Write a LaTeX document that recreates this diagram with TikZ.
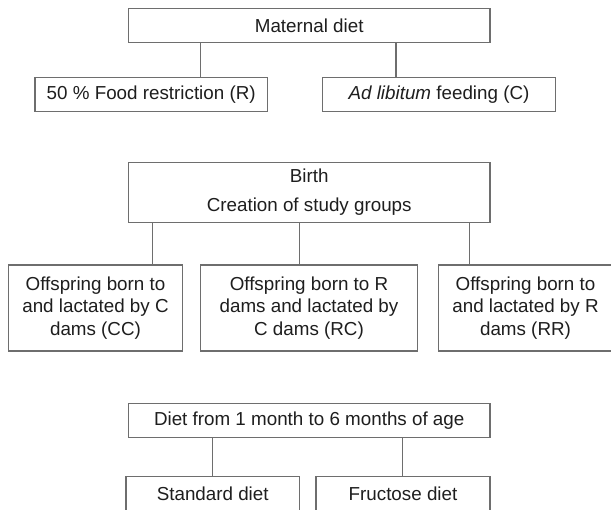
\documentclass[tikz,border=0pt]{standalone}
\usepackage{fontspec}
\setmainfont{Liberation Sans}
\definecolor{linegray}{HTML}{6E6E6E}
\definecolor{textdark}{HTML}{1E1E1E}
\begin{document}
\begin{tikzpicture}[x=1pt,y=-1pt,
  box/.style={draw=linegray, line width=1.5pt, inner sep=0pt, anchor=center,
    text=textdark, font=\fontsize{18.8}{22.2}\selectfont, align=center},
  conn/.style={draw=linegray, line width=1.5pt}]
\useasboundingbox (0,0) rectangle (611,510);
\clip (0,0) rectangle (611,510);
\fill[white] (0,0) rectangle (611,510);
% level 1
\node[box, minimum width=361.7pt, minimum height=34pt] (mat) at (309.2,25.3) {Maternal diet};
\node[box, minimum width=232.3pt, minimum height=34pt] (fr) at (151.2,94.3) {50 \% Food restriction (R)};
\node[box, minimum width=232.6pt, minimum height=34pt] (al) at (439,94.3) {\textit{Ad libitum} feeding (C)};
\coordinate (c1) at (200.7,0);
\coordinate (c2) at (396,0);
\draw[conn] (mat.south -| c1) -- (fr.north -| c1);
\draw[conn] (mat.south -| c2) -- (al.north -| c2);
% level 2
\node[box, minimum width=361.7pt, minimum height=60pt, font=\fontsize{18.8}{28.4}\selectfont] (birth) at (309.2,192.3) {Birth\\Creation of study groups};
\node[box, minimum width=174.4pt, minimum height=86pt] (cc) at (95.5,308) {Offspring born to\\and lactated by C\\dams (CC)};
\node[box, minimum width=216.6pt, minimum height=86pt] (rc) at (309,308) {Offspring born to R\\dams and lactated by\\C dams (RC)};
\node[box, minimum width=174.4pt, minimum height=86pt] (rr) at (525.5,308) {Offspring born to\\and lactated by R\\dams (RR)};
\coordinate (c3) at (152.7,0);
\coordinate (c4) at (299.3,0);
\coordinate (c5) at (469.3,0);
\draw[conn] (birth.south -| c3) -- (cc.north -| c3);
\draw[conn] (birth.south -| c4) -- (rc.north -| c4);
\draw[conn] (birth.south -| c5) -- (rr.north -| c5);
% level 3
\node[box, minimum width=361.7pt, minimum height=34.4pt] (diet) at (309.2,420.5) {Diet from 1 month to 6 months of age};
\node[box, minimum width=173.3pt, minimum height=34.4pt] (std) at (212.7,493.9) {Standard diet};
\node[box, minimum width=174pt, minimum height=34.4pt] (fru) at (403,493.9) {Fructose diet};
\coordinate (c6) at (212.7,0);
\coordinate (c7) at (402.7,0);
\draw[conn] (diet.south -| c6) -- (std.north -| c6);
\draw[conn] (diet.south -| c7) -- (fru.north -| c7);
\end{tikzpicture}
\end{document}
